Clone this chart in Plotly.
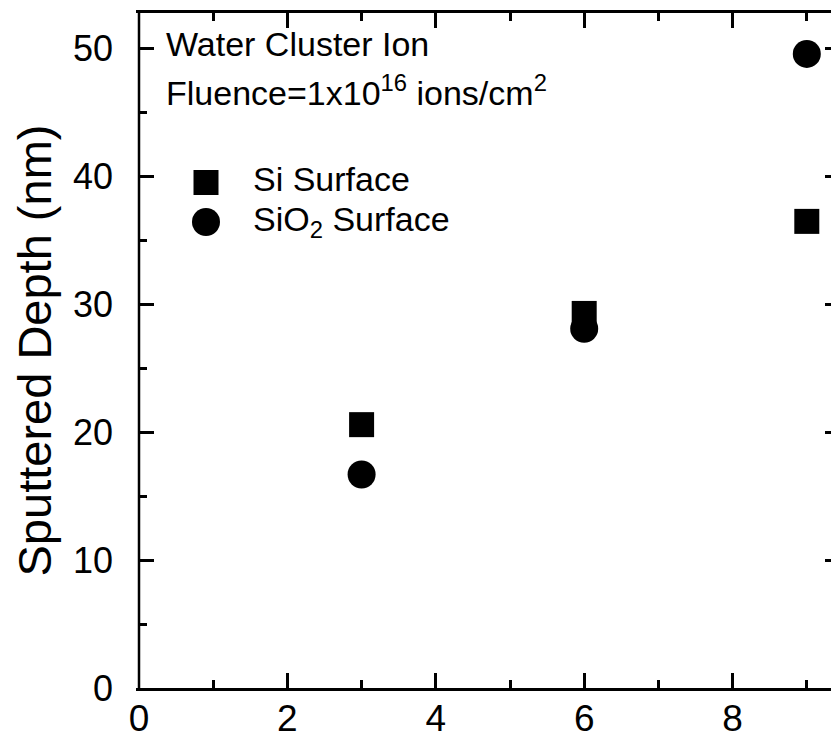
import plotly.graph_objects as go

# Data
fluence_x = [3, 6, 9]
si_depth = [20.6, 29.3, 36.5]
sio2_depth = [16.7, 28.1, 49.6]

x_ticks = [0, 2, 4, 6, 8]
y_ticks = [0, 10, 20, 30, 40, 50]

# page has an 8px body margin; figure coords = page coords - 8
OFF = 8
W, H = 839, 740
L, T, B, R = 131, 5, 60, 7
pw, ph = W - L - R, H - T - B

def px(x):
    return (x - OFF - L) / pw

def py(y):
    return (H - B - (y - OFF)) / ph

FONT = "Liberation Sans, Arial, sans-serif"

fig = go.Figure()
fig.add_trace(go.Scatter(x=fluence_x, y=si_depth, mode="markers", name="Si Surface",
                         marker=dict(symbol="square", size=25, color="black")))
fig.add_trace(go.Scatter(x=fluence_x, y=sio2_depth, mode="markers", name="SiO2 Surface",
                         marker=dict(symbol="circle", size=28, color="black")))

fig.update_layout(
    width=W, height=H,
    margin=dict(l=L, r=R, t=T, b=B),
    paper_bgcolor="white", plot_bgcolor="white",
    showlegend=False,
    font=dict(family=FONT, color="black"),
)

fig.update_xaxes(
    range=[0, pw / 74.2], tickvals=x_ticks, ticktext=[str(v) for v in x_ticks],
    showgrid=False, zeroline=False, automargin=False,
    showline=True, linecolor="black", linewidth=2.5, mirror="ticks",
    ticks="inside", ticklen=15, tickwidth=2.5, tickcolor="black",
    minor=dict(dtick=1, ticks="inside", ticklen=8, tickwidth=2.5, tickcolor="black", showgrid=False),
    tickfont=dict(size=37, family=FONT, color="black"),
    ticklabelstandoff=-4,
)
fig.update_yaxes(
    range=[0, 52.8], tickvals=y_ticks, ticktext=[str(v) for v in y_ticks],
    showgrid=False, zeroline=False, automargin=False,
    showline=True, linecolor="rgba(0,0,0,0)", linewidth=2.5, mirror="ticks",
    ticks="inside", ticklen=15, tickwidth=2.5, tickcolor="black",
    minor=dict(dtick=5, ticks="inside", ticklen=8, tickwidth=2.5, tickcolor="black", showgrid=False),
    tickfont=dict(size=36, family=FONT, color="black"),
    ticklabelstandoff=16,
    title=dict(text="Sputtered Depth (nm)", font=dict(size=47, family=FONT, color="black"), standoff=14),
)

# left axis line
fig.add_shape(type="line", xref="paper", yref="paper", x0=0, x1=0, y0=0, y1=1,
              line=dict(color="black", width=2.5))

# text annotations
fig.add_annotation(text="Water Cluster Ion", xref="paper", yref="paper",
                   x=px(164), y=py(43.5), xanchor="left", yanchor="middle", showarrow=False,
                   font=dict(size=34, family=FONT, color="black"))
fig.add_annotation(text="Fluence=1x10<sup>16</sup> ions/cm<sup>2</sup>", xref="paper", yref="paper",
                   x=px(164), y=py(90), xanchor="left", yanchor="middle", showarrow=False,
                   font=dict(size=34, family=FONT, color="black"))

# manual legend
fig.add_shape(type="rect", xref="paper", yref="paper",
              x0=px(193.5), x1=px(218.5), y0=py(195), y1=py(170),
              fillcolor="black", line=dict(width=0))
fig.add_shape(type="circle", xref="paper", yref="paper",
              x0=px(192), x1=px(220), y0=py(236), y1=py(208),
              fillcolor="black", line=dict(width=0))
fig.add_annotation(text="Si Surface", xref="paper", yref="paper",
                   x=px(251), y=py(179), xanchor="left", yanchor="middle", showarrow=False,
                   font=dict(size=34, family=FONT, color="black"))
fig.add_annotation(text="SiO<sub>2</sub> Surface", xref="paper", yref="paper",
                   x=px(251), y=py(222), xanchor="left", yanchor="middle", showarrow=False,
                   font=dict(size=34, family=FONT, color="black"))

fig.write_html("out.html")
